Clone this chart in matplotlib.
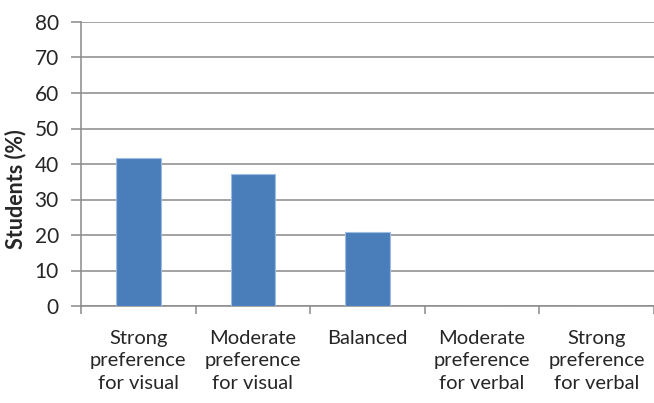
import matplotlib
matplotlib.use("Agg")
import matplotlib.pyplot as plt
import numpy as np

categories = [
    "Strong\npreference\nfor visual",
    "Moderate\npreference\nfor visual",
    "Balanced",
    "Moderate\npreference\nfor verbal",
    "Strong\npreference\nfor verbal",
]
students_pct = [41.8, 37.3, 20.8, 0.0, 0.0]
y_ticks = [0, 10, 20, 30, 40, 50, 60, 70, 80]

plt.rcParams["font.family"] = ["Lato", "DejaVu Sans"]

fig = plt.figure(figsize=(6.54, 4.03), dpi=100)
ax = fig.add_axes([81 / 654, 1 - 306 / 403, 1 - 81 / 654, (306 - 22) / 403])

grid_c = "#8a8a8a"
text_c = "#262626"
x = np.arange(len(categories))
ax.bar(x, students_pct, width=0.39, color="#4a7ebb", edgecolor="#9dbde3",
       linewidth=0.8, zorder=3)

ax.set_xlim(-0.5, len(categories) - 0.5)
ax.set_ylim(0, 80)
ax.set_yticks(y_ticks)
ax.yaxis.grid(True, color=grid_c, linewidth=1.1, zorder=0)

for s in ("top", "right"):
    ax.spines[s].set_visible(False)
for s in ("left", "bottom"):
    ax.spines[s].set_color(grid_c)
    ax.spines[s].set_linewidth(1.1)

ax.set_xticks(x)
ax.set_xticklabels(categories, fontsize=14.5, color=text_c, linespacing=1.42)
ax.set_xticks(np.arange(-0.5, len(categories)), minor=True)
ax.tick_params(axis="x", which="major", length=0, pad=17)
ax.tick_params(axis="x", which="minor", length=6, width=1.1, color=grid_c,
               direction="out")
ax.tick_params(axis="y", length=7, width=1.1, color=grid_c, pad=9,
               labelsize=15, labelcolor=text_c)

ax.set_ylabel("Students (%)", fontsize=15.5, fontweight="bold", color=text_c)
ax.yaxis.set_label_coords(-0.095, 0.41)

fig.savefig("out.png", dpi=100)
